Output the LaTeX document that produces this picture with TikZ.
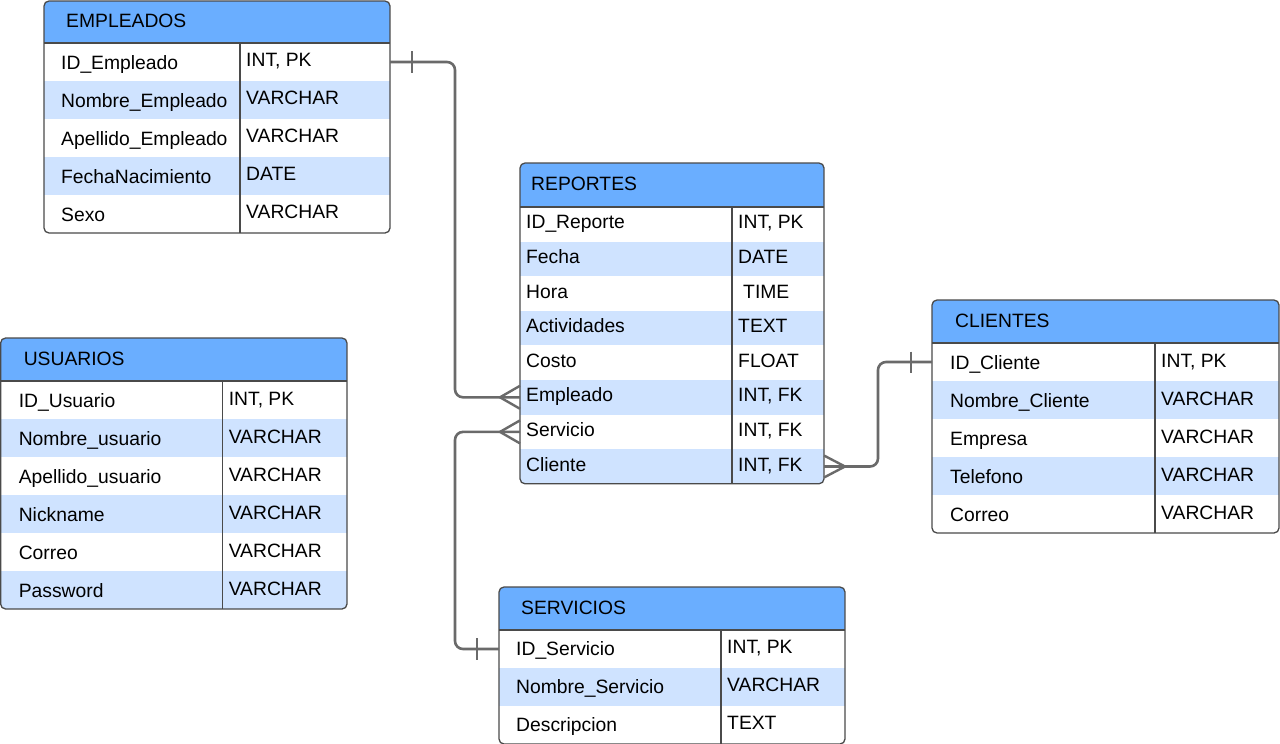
\documentclass[tikz,border=0pt]{standalone}
\usepackage{fontspec}
\setmainfont{Liberation Sans}
\usetikzlibrary{calc}

\definecolor{hdrblue}{HTML}{6AAEFF}
\definecolor{rowblue}{HTML}{CFE3FF}
\definecolor{edgegray}{HTML}{4A4A4A}
\definecolor{linkgray}{HTML}{6A6A6A}

\tikzset{
  frame/.style={draw=edgegray, line width=1.3pt, rounded corners=5pt},
  rule/.style={draw=edgegray, line width=1.2pt},
  cell/.style={inner sep=0pt, font=\fontsize{19.3}{22}\selectfont, text=black},
  conn/.style={draw=linkgray, line width=2.6pt, rounded corners=8pt},
  crow/.style={draw=linkgray, line width=2.4pt, rounded corners=0pt},
  bar/.style={draw=linkgray, line width=2.2pt},
}

% #1 name, #2 left, #3 top, #4 width, #5 divider offset,
% #6 header height, #7 row height, #8 number of rows, #9 title
% rows come from \rowlist; \lpad, \loff, \roff set the text placement
\newcommand{\ertable}[9]{%
  \pgfmathsetmacro{\tbot}{#3+#6+#8*#7}%
  \pgfmathsetmacro{\tright}{#2+#4}%
  \pgfmathsetmacro{\hbot}{#3+#6}%
  \begin{scope}
    \clip[rounded corners=5pt] (#2,#3) rectangle (\tright,\tbot);
    \fill[white] (#2,#3) rectangle (\tright,\tbot);
    \fill[hdrblue] (#2,#3) rectangle (\tright,\hbot);
    \foreach \i/\a/\b in \rowlist {
      \pgfmathsetmacro{\ry}{\hbot+\i*#7}
      \ifodd\i\relax \fill[rowblue] (#2,\ry) rectangle (\tright,\ry+#7);\fi
    }
  \end{scope}
  \foreach \i/\a/\b in \rowlist {
    \pgfmathsetmacro{\rc}{\hbot+(\i+0.5)*#7}
    \coordinate (#1-\i-w) at (#2,\rc);
    \coordinate (#1-\i-e) at (\tright,\rc);
    \node[cell, anchor=base west] (#1-\i-k) at (#2+\lpad,\rc+\loff) {\a};
    \node[cell, anchor=base west] (#1-\i-t) at (#2+#5+6,\rc+\roff) {\b};
  }
  \node[cell, anchor=base west] (#1-title) at (#2+\lpad+5,#3+#6/2+5.5) {#9};
  \draw[rule] (#2,\hbot) -- (\tright,\hbot);
  \draw[rule] (#2+#5,\hbot) -- (#2+#5,\tbot);
  \draw[frame] (#2,#3) rectangle (\tright,\tbot);
}

\begin{document}
\begin{tikzpicture}[x=1pt, y=-1pt]
  \useasboundingbox (0,0) rectangle (1280,744);
  \fill[white] (0,0) rectangle (1280,744);

  % tables
  \def\lpad{17}\def\loff{7}\def\roff{4.5}
  \def\rowlist{0/ID\_Empleado/{INT, PK}, 1/Nombre\_Empleado/VARCHAR,
    2/Apellido\_Empleado/VARCHAR, 3/FechaNacimiento/DATE, 4/Sexo/VARCHAR}
  \ertable{emp}{44}{1}{346}{196}{42}{38}{5}{EMPLEADOS}

  \def\lpad{6}\def\loff{4.5}\def\roff{4.5}
  \def\rowlist{0/ID\_Reporte/{INT, PK}, 1/Fecha/DATE, 2/Hora/{\hspace*{5pt}TIME},
    3/Actividades/TEXT, 4/Costo/FLOAT, 5/Empleado/{INT, FK},
    6/Servicio/{INT, FK}, 7/Cliente/{INT, FK}}
  \ertable{rep}{520}{163}{304}{212}{44}{34.6}{8}{REPORTES}

  \def\lpad{18}\def\loff{7}\def\roff{5}
  \def\rowlist{0/ID\_Cliente/{INT, PK}, 1/Nombre\_Cliente/VARCHAR,
    2/Empresa/VARCHAR, 3/Telefono/VARCHAR, 4/Correo/VARCHAR}
  \ertable{cli}{932}{300}{347}{223}{43}{38}{5}{CLIENTES}

  \def\lpad{18}\def\loff{7}\def\roff{5}
  \def\rowlist{0/ID\_Usuario/{INT, PK}, 1/Nombre\_usuario/VARCHAR,
    2/Apellido\_usuario/VARCHAR, 3/Nickname/VARCHAR, 4/Correo/VARCHAR,
    5/Password/VARCHAR}
  \ertable{usu}{0.6}{338}{346.4}{222}{43}{38}{6}{USUARIOS}

  \def\lpad{17}\def\loff{6}\def\roff{4}
  \def\rowlist{0/ID\_Servicio/{INT, PK}, 1/Nombre\_Servicio/VARCHAR,
    2/Descripcion/TEXT}
  \ertable{ser}{499}{587}{346}{222}{43}{38}{3}{SERVICIOS}

  % routing columns of the relationship lines
  \coordinate (jl) at (455,0);
  \coordinate (jr) at (878,0);

  % EMPLEADOS 1 -- N REPORTES
  \draw[conn] (emp-0-e) -| (jl |- rep-5-w) -- (rep-5-w);
  \draw[bar] ($(emp-0-e)+(22,-11)$) -- ($(emp-0-e)+(22,11)$);
  \draw[crow] ($(rep-5-w)+(0,-11.5)$) -- ($(rep-5-w)+(-20,0)$) -- ($(rep-5-w)+(0,11.5)$);

  % SERVICIOS 1 -- N REPORTES
  \draw[conn] (ser-0-w) -| (jl |- rep-6-w) -- (rep-6-w);
  \draw[bar] ($(ser-0-w)+(-22,-11)$) -- ($(ser-0-w)+(-22,11)$);
  \draw[crow] ($(rep-6-w)+(0,-11.5)$) -- ($(rep-6-w)+(-20,0)$) -- ($(rep-6-w)+(0,11.5)$);

  % CLIENTES 1 -- N REPORTES
  \draw[conn] (rep-7-e) -| (jr |- cli-0-w) -- (cli-0-w);
  \draw[bar] ($(cli-0-w)+(-21,-10.5)$) -- ($(cli-0-w)+(-21,10.5)$);
  \draw[crow] ($(rep-7-e)+(0,-11)$) -- ($(rep-7-e)+(21,0)$) -- ($(rep-7-e)+(0,11)$);
\end{tikzpicture}
\end{document}
